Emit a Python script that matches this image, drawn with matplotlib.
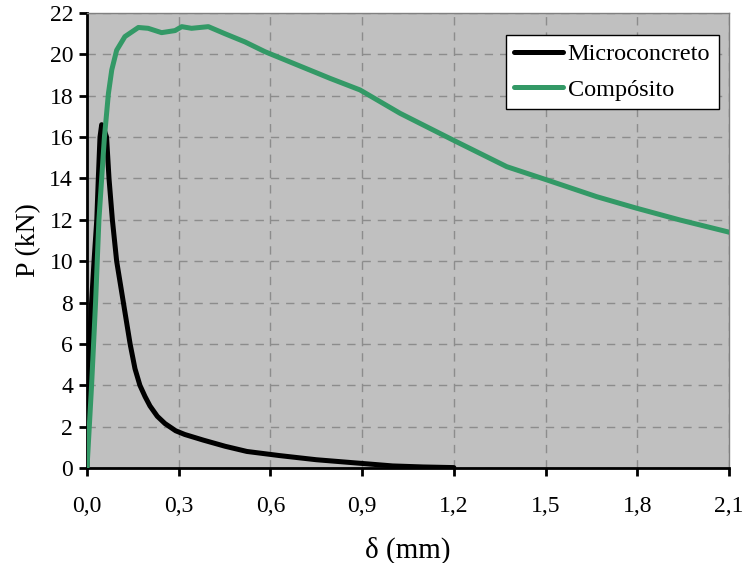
import matplotlib
matplotlib.use("Agg")
import matplotlib.pyplot as plt
from matplotlib.ticker import FuncFormatter

# Load-deflection curves
micro_x = [0.0, 0.002, 0.004, 0.010, 0.015, 0.023, 0.032, 0.037, 0.0425, 0.048,
           0.055, 0.064, 0.072, 0.083, 0.097, 0.119, 0.141, 0.157, 0.173, 0.190,
           0.206, 0.230, 0.255, 0.290, 0.320, 0.380, 0.452, 0.523, 0.630, 0.750,
           0.900, 1.000, 1.100, 1.200]
micro_p = [0.0, 3.0, 5.0, 6.5, 8.0, 10.0, 12.0, 14.0, 16.0, 16.6,
           16.4, 16.0, 14.0, 12.0, 10.0, 8.0, 6.0, 4.8, 4.0, 3.45,
           3.0, 2.5, 2.15, 1.8, 1.62, 1.35, 1.05, 0.8, 0.6, 0.4,
           0.22, 0.1, 0.05, 0.02]

comp_x = [0.0, 0.015, 0.028, 0.039, 0.048, 0.057, 0.062, 0.070, 0.081, 0.097,
          0.124, 0.168, 0.200, 0.244, 0.288, 0.310, 0.342, 0.397, 0.451, 0.517,
          0.582, 0.648, 0.795, 0.893, 1.024, 1.197, 1.373, 1.504, 1.667, 1.798,
          1.940, 2.093, 2.100]
comp_p = [0.0, 4.0, 8.0, 12.0, 14.0, 16.0, 16.8, 18.1, 19.25, 20.2,
          20.86, 21.3, 21.26, 21.05, 21.15, 21.34, 21.26, 21.34, 21.0, 20.6,
          20.13, 19.73, 18.84, 18.28, 17.15, 15.86, 14.57, 13.93, 13.12, 12.56,
          11.99, 11.43, 11.4]

x_ticks = [0.0, 0.3, 0.6, 0.9, 1.2, 1.5, 1.8, 2.1]
y_ticks = list(range(0, 23, 2))

plt.rcParams['font.family'] = ['Liberation Serif', 'DejaVu Serif']

fig = plt.figure(figsize=(7.44, 5.63), dpi=100)
ax = fig.add_axes([87 / 744, 1 - 468 / 563, (729 - 87) / 744, (468 - 13) / 563])
ax.set_facecolor('#C0C0C0')

ax.plot(micro_x, micro_p, color='black', lw=3.6, label='Microconcreto',
        solid_joinstyle='round', solid_capstyle='round', zorder=3)
ax.plot(comp_x, comp_p, color='#339966', lw=3.6, label='Compósito',
        solid_joinstyle='round', solid_capstyle='round', zorder=3)

ax.set_xlim(0, 2.1)
ax.set_ylim(0, 22)
ax.set_xticks(x_ticks)
ax.set_yticks(y_ticks)
ax.xaxis.set_major_formatter(FuncFormatter(lambda v, p: f"{v:.1f}".replace('.', ',')))
ax.grid(True, color='#8c8c8c', linestyle=(0, (6, 5)), linewidth=1.0, zorder=1)
ax.set_axisbelow(True)

for side in ('top', 'right'):
    ax.spines[side].set_color('#808080')
    ax.spines[side].set_linewidth(1.0)
for side in ('left', 'bottom'):
    ax.spines[side].set_color('black')
    ax.spines[side].set_linewidth(2.0)

ax.tick_params(axis='both', direction='out', length=6, width=2, color='black',
               labelsize=17)
ax.tick_params(axis='x', pad=14)
ax.tick_params(axis='y', pad=4)

ax.set_xlabel('δ (mm)', fontsize=21, labelpad=14)
ax.set_ylabel('P (kN)', fontsize=20, labelpad=6)

leg = ax.legend(loc='upper right', bbox_to_anchor=(0.984, 0.952), fontsize=17.5,
                frameon=True, fancybox=False, framealpha=1, edgecolor='black',
                handlelength=2.0, borderpad=0.35, labelspacing=0.55,
                handletextpad=0.2, borderaxespad=0)
leg.get_frame().set_linewidth(1.0)

fig.savefig('out.png', dpi=100, facecolor='white')
